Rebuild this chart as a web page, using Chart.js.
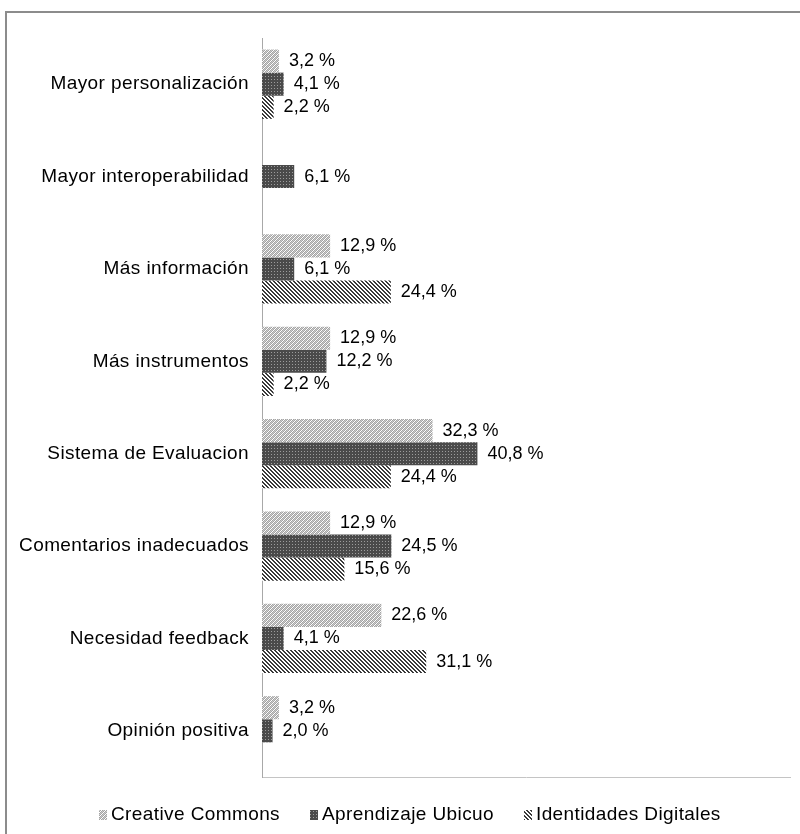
<!DOCTYPE html>
<html>
<head>
<meta charset="utf-8">
<script src="https://cdn.jsdelivr.net/npm/chart.js@4.4.1/dist/chart.umd.min.js"></script>
<style>
  html, body { margin: 0; padding: 0; background: #fff; }
  #chart { display: block; }
</style>
</head>
<body>
<canvas id="chart" width="800" height="834"></canvas>
<script>
const categories = [
  'Mayor personalización',
  'Mayor interoperabilidad',
  'Más información',
  'Más instrumentos',
  'Sistema de Evaluacion',
  'Comentarios inadecuados',
  'Necesidad feedback',
  'Opinión positiva'
];
const seriesNames = ['Creative Commons', 'Aprendizaje Ubicuo', 'Identidades Digitales'];
const creativeCommons = [3.2, 0, 12.9, 12.9, 32.3, 12.9, 22.6, 3.2];
const aprendizajeUbicuo = [4.1, 6.1, 6.1, 12.2, 40.8, 24.5, 4.1, 2.0];
const identidadesDigitales = [2.2, 0, 24.4, 2.2, 24.4, 15.6, 31.1, 0];

const FONT = '"Liberation Sans", Arial, sans-serif';

// small tiles for the hatched fills
const makePattern = (size, draw) => {
  const c = document.createElement('canvas');
  c.width = size; c.height = size;
  const g = c.getContext('2d');
  draw(g);
  return document.getElementById('chart').getContext('2d').createPattern(c, 'repeat');
};

const patLight = makePattern(4, g => {
  g.fillStyle = '#ffffff'; g.fillRect(0, 0, 4, 4);
  g.fillStyle = '#a4a4a4';
  [[0,0],[1,1],[2,2],[3,3],[2,0],[3,1],[0,2],[1,3]].forEach(([x, y]) => g.fillRect(x, y, 1, 1));
  g.fillStyle = '#cccccc';
  [[1,0],[0,1],[3,2],[2,3]].forEach(([x, y]) => g.fillRect(x, y, 1, 1));
});

const patDark = makePattern(3, g => {
  g.fillStyle = '#4a4a4a'; g.fillRect(0, 0, 3, 3);
  g.fillStyle = '#9c9c9c'; g.fillRect(1, 1, 1, 1);
});

const patStripe = makePattern(4, g => {
  g.fillStyle = '#ffffff'; g.fillRect(0, 0, 4, 4);
  g.fillStyle = '#3a3a3a';
  [[0,0],[1,0],[1,1],[2,1],[2,2],[3,2],[3,3],[0,3]].forEach(([x, y]) => g.fillRect(x, y, 1, 1));
});

const patterns = [patLight, patDark, patStripe];

const frame = {
  id: 'frame',
  beforeDraw(chart) {
    const ctx = chart.ctx;
    // the original text is a little wider than Arial
    ctx.letterSpacing = '0.4px';
    ctx.save();
    ctx.strokeStyle = '#8c8c8c';
    ctx.lineWidth = 2;
    ctx.beginPath();
    ctx.moveTo(6, 900);
    ctx.lineTo(6, 12);
    ctx.lineTo(900, 12);
    ctx.stroke();
    ctx.restore();
  }
};

const valueLabels = {
  id: 'valueLabels',
  afterDatasetsDraw(chart) {
    const ctx = chart.ctx;
    ctx.save();
    ctx.letterSpacing = '0px';
    ctx.font = '18px ' + FONT;
    ctx.fillStyle = '#000';
    ctx.textBaseline = 'middle';
    ctx.textAlign = 'left';
    chart.data.datasets.forEach((ds, i) => {
      chart.getDatasetMeta(i).data.forEach((bar, j) => {
        const v = ds.data[j];
        if (!v) return;
        ctx.fillText(v.toFixed(1).replace('.', ',') + ' %', bar.x + 10, bar.y);
      });
    });
    ctx.restore();
  }
};

const legendRow = {
  id: 'legendRow',
  afterDraw(chart) {
    const ctx = chart.ctx;
    ctx.save();
    ctx.letterSpacing = '0.4px';
    ctx.font = '19px ' + FONT;
    ctx.textBaseline = 'middle';
    const y = 815;
    let x = 99;
    chart.data.datasets.forEach(ds => {
      ctx.fillStyle = ds.backgroundColor;
      ctx.fillRect(x, y - 5, 8, 10);
      ctx.fillStyle = '#000';
      ctx.fillText(ds.label, x + 12, y);
      x += 12 + ctx.measureText(ds.label).width + 30;
    });
    ctx.restore();
  }
};

new Chart(document.getElementById('chart'), {
  type: 'bar',
  data: {
    labels: categories,
    datasets: [creativeCommons, aprendizajeUbicuo, identidadesDigitales].map((d, i) => ({
      label: seriesNames[i],
      data: d,
      backgroundColor: patterns[i],
      borderWidth: 0,
      categoryPercentage: 0.75,
      barPercentage: 1.0
    }))
  },
  options: {
    indexAxis: 'y',
    responsive: false,
    animation: false,
    layout: { padding: { top: 38, right: 10, bottom: 57, left: 0 } },
    plugins: {
      legend: { display: false },
      tooltip: { enabled: false }
    },
    scales: {
      x: {
        min: 0,
        max: 100,
        ticks: { display: false },
        grid: { display: false, drawTicks: false },
        border: { display: true, color: '#c4c4c4', width: 1 },
        afterFit: s => { s.height = 0; }
      },
      y: {
        ticks: { color: '#000', font: { family: FONT, size: 19 }, padding: 13 },
        grid: { display: false, drawTicks: false },
        border: { display: true, color: '#a8a8a8', width: 1 },
        afterFit: s => { s.width = 262; }
      }
    }
  },
  plugins: [frame, valueLabels, legendRow]
});
</script>
</body>
</html>
